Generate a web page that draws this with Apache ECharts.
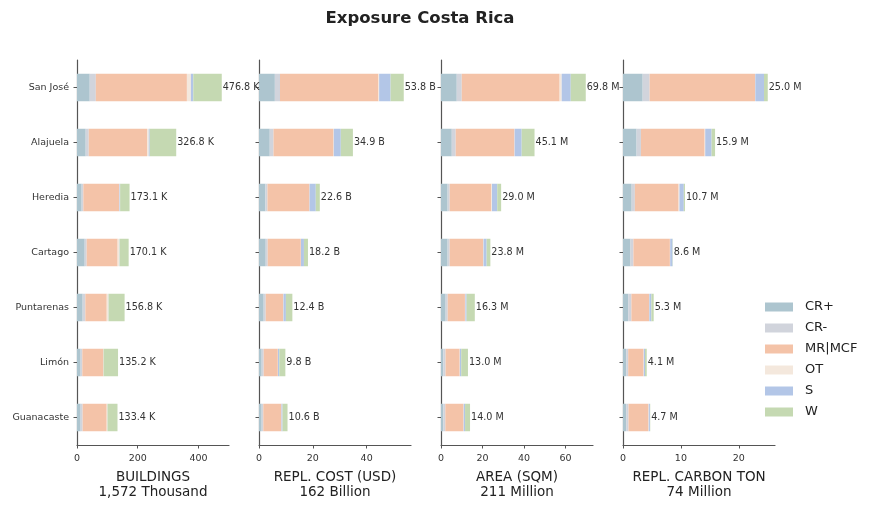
<!DOCTYPE html>
<html>
<head>
<meta charset="utf-8">
<script src="https://cdn.jsdelivr.net/npm/echarts@6/dist/echarts.min.js"></script>
<style>
  html, body { margin: 0; padding: 0; background: #fff; }
  #chart { width: 875px; height: 510px; }
</style>
</head>
<body>
<div id="chart"></div>
<script>
// provinces, top to bottom
const provinces = ["San José", "Alajuela", "Heredia", "Cartago", "Puntarenas", "Limón", "Guanacaste"];
const classes = ["CR+", "CR-", "MR|MCF", "OT", "S", "W"];
const classColors = ["#adc5cf", "#d1d4dc", "#f4c3a8", "#f4e8dd", "#b3c6e7", "#c5d9b2"];

// one row per class (CR+, CR-, MR|MCF, OT, S, W), one value per province
// buildings, thousands
const buildings = [
  [42, 28.7, 15.4, 25.3, 18.7, 12, 12],
  [20, 10, 5.5, 6.6, 8.8, 5.5, 6.6],
  [300, 192, 118, 102, 70.5, 69.4, 79.3],
  [13, 5.5, 1, 5.5, 5.5, 0.5, 2.2],
  [8, 3.3, 2.2, 1, 0.5, 0.3, 0.3],
  [93.8, 87.3, 31, 29.7, 52.8, 47.5, 33]
];
// replacement cost, billion USD
const replCost = [
  [5.9, 4.0, 2.4, 2.5, 1.75, 1.0, 1.0],
  [1.9, 1.4, 0.75, 0.75, 0.75, 0.75, 0.6],
  [36.6, 22.3, 15.6, 12.3, 6.5, 5.25, 6.7],
  [0.25, 0.1, 0.05, 0.05, 0.1, 0.05, 0.05],
  [4.25, 2.6, 2.3, 1.1, 0.9, 0.5, 0.4],
  [4.9, 4.5, 1.5, 1.5, 2.4, 2.25, 1.85]
];
// built area, million sqm
const area = [
  [7.6, 5.2, 3.2, 3.2, 2.25, 1.1, 1.1],
  [2.4, 1.9, 1.0, 1.0, 1.0, 1.1, 1.0],
  [47.2, 28.3, 20.1, 16.1, 8.3, 6.8, 8.75],
  [1.0, 0.1, 0.3, 0.2, 0.2, 0.1, 0.1],
  [4.35, 3.4, 2.5, 1.5, 0.6, 0.65, 0.65],
  [7.25, 6.2, 1.9, 1.8, 3.95, 3.25, 2.4]
];
// replacement carbon, million ton
const carbon = [
  [3.4, 2.35, 1.5, 1.3, 0.9, 0.55, 0.55],
  [1.2, 0.75, 0.55, 0.5, 0.55, 0.35, 0.4],
  [18.2, 11.0, 7.55, 6.3, 3.05, 2.65, 3.45],
  [0.05, 0.1, 0.15, 0.05, 0.05, 0.05, 0.05],
  [1.5, 1.1, 0.75, 0.4, 0.35, 0.2, 0.2],
  [0.65, 0.6, 0.2, 0.05, 0.4, 0.3, 0.05]
];

const panels = [buildings, replCost, area, carbon];
const panelUnits = ["K", "B", "M", "M"];
const panelNames = ["BUILDINGS\n1,572 Thousand", "REPL. COST (USD)\n162 Billion", "AREA (SQM)\n211 Million", "REPL. CARBON TON\n74 Million"];
const panelTicks = [[0, 200, 400], [0, 20, 40], [0, 20, 40, 60], [0, 10, 20]];

const FONT = "DejaVu Sans";
const axisColor = "#555";

const totalsOf = (rows) => provinces.map((_, i) => rows.reduce((s, r) => s + r[i], 0));

const grids = [], xAxes = [], yAxes = [], series = [];
panels.forEach((rows, p) => {
  const totals = totalsOf(rows);
  const max = Math.max(...totals) * 1.05;
  grids.push({ left: 77 + p * 182, top: 60, width: 152, height: 385 });
  xAxes.push({
    type: "value", gridIndex: p, min: 0, max: max,
    name: panelNames[p], nameLocation: "middle", nameGap: 25,
    nameTextStyle: { fontFamily: FONT, fontSize: 13.5, color: "#222", lineHeight: 15, verticalAlign: "top" },
    splitLine: { show: false },
    axisLine: { show: true, lineStyle: { color: axisColor, width: 1.2 } },
    axisTick: { show: true, length: 3.5, lineStyle: { color: axisColor }, customValues: panelTicks[p] },
    axisLabel: { fontFamily: FONT, fontSize: 9.5, color: "#333", margin: 9, customValues: panelTicks[p] }
  });
  yAxes.push({
    type: "category", gridIndex: p, data: provinces, inverse: true,
    axisLine: { show: true, lineStyle: { color: axisColor, width: 1.2 } },
    axisTick: { show: true, alignWithLabel: true, length: 3.5, lineStyle: { color: axisColor } },
    axisLabel: { show: p === 0, fontFamily: FONT, fontSize: 9.5, color: "#333", margin: 8 }
  });
  classes.forEach((c, k) => {
    const s = {
      name: c, type: "bar", stack: "p" + p, xAxisIndex: p, yAxisIndex: p,
      barWidth: "50%", data: rows[k],
      itemStyle: { color: classColors[k] },
      emphasis: { disabled: true }
    };
    if (k === classes.length - 1) {
      s.label = {
        show: true, position: "right", distance: 1,
        fontFamily: FONT, fontSize: 9.6, color: "#333",
        formatter: (prm) => totals[prm.dataIndex].toFixed(1) + " " + panelUnits[p]
      };
    }
    series.push(s);
  });
});

const chart = echarts.init(document.getElementById("chart"), null, { renderer: "canvas" });
chart.setOption({
  animation: false,
  title: {
    text: "Exposure Costa Rica", left: 415, top: 5, textAlign: "center",
    textStyle: { fontFamily: FONT, fontSize: 16.5, fontWeight: "bold", color: "#222" }
  },
  legend: {
    data: classes, orient: "vertical", left: 760, top: 295,
    itemWidth: 28, itemHeight: 9, itemGap: 7, icon: "rect",
    textStyle: { fontFamily: FONT, fontSize: 13, color: "#222", lineHeight: 14, padding: [0, 0, 0, 7] }
  },
  grid: grids,
  xAxis: xAxes,
  yAxis: yAxes,
  series: series
});
</script>
</body>
</html>
